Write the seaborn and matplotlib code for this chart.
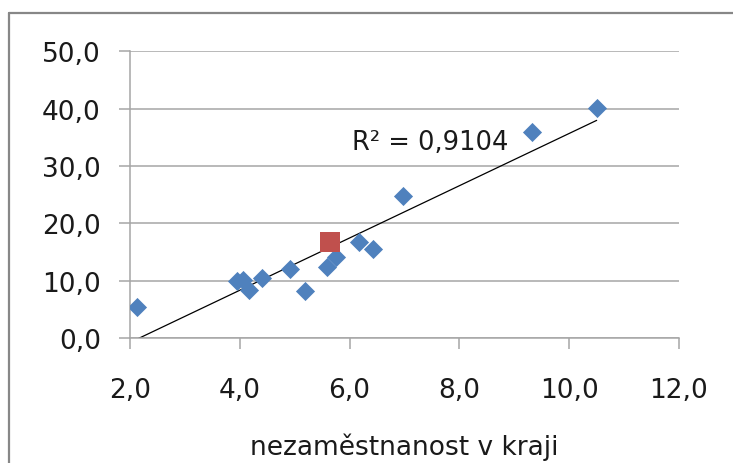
import matplotlib
matplotlib.use("Agg")
import matplotlib.pyplot as plt
from matplotlib.lines import Line2D
from matplotlib.ticker import FuncFormatter
import seaborn as sns
import pandas as pd

# --- data ---
unemployment = [2.12, 3.95, 4.05, 4.17, 4.40, 4.91, 5.19, 5.58, 5.76, 6.18, 6.43, 6.97, 9.33, 10.50]
value = [5.46, 10.0, 10.2, 8.37, 10.4, 12.0, 8.14, 12.3, 14.07, 16.7, 15.5, 24.8, 35.9, 40.06]
highlight_x = [5.64]
highlight_y = [16.7]
r2_label = "R² = 0,9104"
x_label = "nezaměstnanost v kraji"
x_ticks = [2.0, 4.0, 6.0, 8.0, 10.0, 12.0]
y_ticks = [0.0, 10.0, 20.0, 30.0, 40.0, 50.0]

df = pd.DataFrame({"x": unemployment, "y": value})
hl = pd.DataFrame({"x": highlight_x, "y": highlight_y})

sns.set_theme(style="white")
plt.rcParams["font.family"] = ["DejaVu Sans"]

W, H = 733, 464
fig = plt.figure(figsize=(W / 100, H / 100), dpi=100)
fig.patch.set_facecolor("white")
ax = fig.add_axes([130 / W, 1 - 339 / H, (679 - 130) / W, (339 - 52.3) / H])

grid_c = "#A6A6A6"
text_c = "#1A1A1A"

sns.regplot(data=df, x="x", y="y", ci=None, truncate=True, scatter=False,
            line_kws=dict(color="black", lw=0.9), ax=ax)
sns.scatterplot(data=df, x="x", y="y", marker="D", s=95, color="#4F81BD",
                linewidth=0, ax=ax, zorder=3)
sns.scatterplot(data=hl, x="x", y="y", marker="s", s=207, color="#C0504D",
                linewidth=0, ax=ax, zorder=4)

ax.set_xlim(2, 12)
ax.set_ylim(0, 50)
ax.set_xticks(x_ticks)
ax.set_yticks(y_ticks)
fmt = FuncFormatter(lambda v, p: f"{v:.1f}".replace(".", ","))
ax.xaxis.set_major_formatter(fmt)
ax.yaxis.set_major_formatter(fmt)

ax.yaxis.grid(True, color=grid_c, lw=1.1)
ax.xaxis.grid(False)
ax.set_axisbelow(True)
for s in ["top", "right"]:
    ax.spines[s].set_visible(False)
for s in ["left", "bottom"]:
    ax.spines[s].set_color(grid_c)
    ax.spines[s].set_linewidth(1.1)

ax.tick_params(axis="both", which="major", direction="out", length=8, width=1.1,
               color=grid_c, labelsize=19, labelcolor=text_c)
ax.tick_params(axis="y", pad=13)
ax.tick_params(axis="x", pad=20)
ax.xaxis.set_ticks_position("bottom")
ax.yaxis.set_ticks_position("left")

ax.set_xlabel(x_label, fontsize=19, color=text_c, labelpad=21)
ax.set_ylabel("")

ax.text(6.04, 34.2, r2_label, ha="left", va="center", fontsize=18.5, color=text_c)

# outer chart border (left and top edges visible)
border_c = "#878787"
fig.add_artist(Line2D([8.5 / W, 8.5 / W], [0, 1 - 14 / H], transform=fig.transFigure,
                      color=border_c, lw=1.6))
fig.add_artist(Line2D([8.5 / W, 1.0], [1 - 14 / H, 1 - 14 / H], transform=fig.transFigure,
                      color=border_c, lw=1.6))

fig.savefig("out.png", dpi=100)
